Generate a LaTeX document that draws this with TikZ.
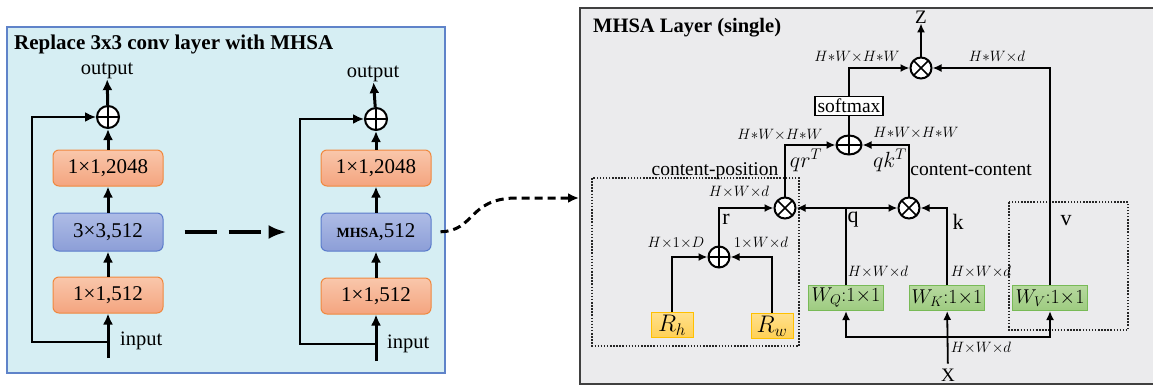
\RequirePackage{fix-cm}
\documentclass[tikz,border=0pt]{standalone}
\usepackage{fontspec}
\setmainfont{Liberation Serif}
\usepackage{tikz}
\usetikzlibrary{arrows.meta,shapes.geometric}

\definecolor{panelblue}{HTML}{D6EEF3}
\definecolor{paneledge}{HTML}{5F83C9}
\definecolor{panelgray}{HTML}{EBEBED}
\definecolor{orangetop}{HTML}{F9C7AB}
\definecolor{orangebot}{HTML}{F4A47F}
\definecolor{orangeedge}{HTML}{F0883E}
\definecolor{bluetop}{HTML}{AEBCE6}
\definecolor{bluebot}{HTML}{8C9ED7}
\definecolor{blueedge}{HTML}{5A7BCB}
\definecolor{greentop}{HTML}{B7D99F}
\definecolor{greenbot}{HTML}{9DCB80}
\definecolor{greenedge}{HTML}{78BA57}
\definecolor{yellowtop}{HTML}{FFE08C}
\definecolor{yellowbot}{HTML}{FFD055}
\definecolor{yellowedge}{HTML}{FFC000}

\newcommand{\fs}[1]{\fontsize{#1}{#1}\selectfont}

\begin{document}
\begin{tikzpicture}[x=1pt, y=-1pt,
  every node/.style = {inner sep=1pt},
  arr/.style = {line width=1.8pt, -{Latex[length=9pt,width=8pt]}},
  thickarr/.style = {line width=3pt, -{Latex[length=11pt,width=10pt]}},
  skiparr/.style = {line width=2pt, -{Latex[length=11pt,width=10pt]}},
  convbox/.style = {draw = orangeedge, line width = 1pt, top color = orangetop, bottom color = orangebot, rounded corners = 6pt, minimum width = 110pt, minimum height = 36pt, font = \fs{21}},
  mhsabox/.style = {convbox, draw = blueedge, top color = bluetop, bottom color = bluebot, minimum height = 38pt},
  wbox/.style = {draw = greenedge, line width = 1pt, top color = greentop, bottom color = greenbot, minimum width = 75pt, minimum height = 25pt, inner sep = 0pt, font = \fs{20}},
  rbox/.style = {draw = yellowedge, line width = 1pt, top color = yellowtop, bottom color = yellowbot, minimum width = 42pt, minimum height = 25pt, inner sep = 0pt, font = \fs{24}},
  addnode/.style = {draw, circle, line width = 2pt, fill = white, minimum size = 22pt, inner sep = 0pt,
    path picture = {\draw[line width = 1.6pt] (path picture bounding box.north) -- (path picture bounding box.south) (path picture bounding box.west) -- (path picture bounding box.east);}},
  mulnode/.style = {addnode, minimum size = 21pt,
    path picture = {\draw[line width = 1.6pt] (path picture bounding box.north west) -- (path picture bounding box.south east) (path picture bounding box.south west) -- (path picture bounding box.north east);}},
  dim/.style = {inner sep = 0pt, font = \fs{15}},
  big/.style = {inner sep = 0pt, font = \fs{20.5}},
  dotbox/.style = {draw = black!85, line width = 1.6pt, dash pattern = on 1.5pt off 1.6pt}
]
\useasboundingbox (0,0) rectangle (1153,386);

% left panel
\draw[draw = paneledge, fill = panelblue, line width = 2pt] (7,27) rectangle (445,373);
\node[anchor = west, font = \fs{21}\bfseries] (ttlA) at (13,44) {Replace 3x3 conv layer with MHSA};

\node[convbox] (c1) at (108,295) {1×1,512};
\node[mhsabox] (c2) at (108,232) {3×3,512};
\node[convbox] (c3) at (108,168) {1×1,2048};
\node[addnode] (p1) at (108,117) {};
\node[big] (out1) at (107,71) {output};
\node[big, anchor = west] (inl1) at (120,341) {input};
\coordinate (in1) at (108,358);
\coordinate (s1) at (108,342);
\draw[thickarr] (in1) -- (c1);
\draw[thickarr] (c1) -- (c2);
\draw[thickarr] (c2) -- (c3);
\draw[thickarr] (c3) -- (p1);
\draw[thickarr] (p1) -- (out1);
\draw[skiparr] (s1) -- ++(-76,0) |- (p1);

\node[convbox] (c4) at (376,296) {1×1,512};
\node[mhsabox] (c5) at (376,232) {{\fs{14}\bfseries MHSA},512};
\node[convbox] (c6) at (376,168) {1×1,2048};
\node[addnode] (p2) at (376,119) {};
\node[big] (out2) at (373,74) {output};
\node[big, anchor = west] (inl2) at (387,344) {input};
\coordinate (in2) at (376,361);
\coordinate (s2) at (376,344);
\draw[thickarr] (in2) -- (c4);
\draw[thickarr] (c4) -- (c5);
\draw[thickarr] (c5) -- (c6);
\draw[thickarr] (c6) -- (p2);
\draw[thickarr] (p2) -- (out2);
\draw[skiparr] (s2) -- ++(-76,0) |- (p2);

\draw[line width = 3.5pt, dash pattern = on 32pt off 12pt, -{Latex[length=18pt,width=14pt]}, shorten <= 21pt, shorten >= 34pt] (c2) -- (c5);

% right panel
\draw[draw = black!75, fill = panelgray, line width = 2pt] (580,8) rectangle (1160,384);
\node[anchor = west, font = \fs{20.5}\bfseries] (ttlB) at (592,28) {MHSA Layer (single)};
\coordinate (mhsain) at (579,198);
\draw[line width = 3pt, dash pattern = on 8pt off 5pt, -{Latex[length=11pt,width=10pt]}, shorten <= 9pt] (c5.east) .. controls (475,231) and (468,199) .. (515,198) -- (mhsain);

\draw[dotbox] (592,178) rectangle (799,346);
\draw[dotbox] (1009,202) rectangle (1128,330);

\node[mulnode] (mz) at (921,68) {};
\node[font = \fs{19}, inner sep = 0pt] (z) at (921,17) {Z};
\node[draw, line width = 1.5pt, fill = white, font = \fs{19.5}, inner sep = 1pt, minimum width = 68pt, minimum height = 19pt] (sm) at (849,106) {softmax};
\node[addnode, ellipse, minimum width = 25pt, minimum height = 19pt] (ps) at (849,145) {};
\node[mulnode] (mqr) at (785,208) {};
\node[mulnode] (mqk) at (909,208) {};
\node[addnode, minimum size = 21pt] (pr) at (719,257) {};
\node[rbox] (rh) at (672,325) {$R_h$};
\node[rbox] (rw) at (772,326) {$R_w$};
\node[wbox] (wq) at (846,298) {$W_Q{:}1{\times}1$};
\node[wbox] (wk) at (947,298) {$W_K{:}1{\times}1$};
\node[wbox] (wv) at (1050,298) {$W_V{:}1{\times}1$};
\node[font = \fs{19}, inner sep = 0pt] (x) at (948,375) {X};
\coordinate (xb) at (948,337);

\draw[arr] (mz) -- (z);
\draw[arr] (sm) |- (mz);
\draw[arr] (wv) |- (mz);
\draw[line width = 1.8pt] (ps) -- (sm);
\draw[arr] (mqr) |- (ps);
\draw[arr] (mqk) |- (ps);
\draw[arr] (wq) |- (mqr);
\draw[arr] (wq) |- (mqk);
\draw[arr] (wk) |- (mqk);
\draw[arr] (pr) |- (mqr);
\draw[arr] (rh) |- (pr);
\draw[arr] (rw) |- (pr);
\draw[arr, shorten <= 5pt] (x) -- (wk);
\draw[arr] (xb) -| (wq);
\draw[arr] (xb) -| (wv);

% labels
\node[dim] (d1) at (857,57) {$H{*}W{\times}H{*}W$};
\node[dim] (d2) at (997,57) {$H{*}W{\times}d$};
\node[dim] (d3) at (780,135) {$H{*}W{\times}H{*}W$};
\node[dim] (d4) at (916,133) {$H{*}W{\times}H{*}W$};
\node[inner sep = 0pt, font = \fs{22}] (lqr) at (806,160) {$qr^T$};
\node[inner sep = 0pt, font = \fs{22}] (lqk) at (890,160) {$qk^T$};
\node[inner sep = 0pt, font = \fs{19.5}] (lcc) at (971,170) {content-content};
\node[inner sep = 0pt, font = \fs{19.5}] (lcp) at (715,171) {content-position};
\node[dim] (d5) at (739,192) {$H{\times}W{\times}d$};
\node[dim] (d6) at (676,243) {$H{\times}1{\times}D$};
\node[dim] (d7) at (761,243) {$1{\times}W{\times}d$};
\node[dim] (d8) at (878,272) {$H{\times}W{\times}d$};
\node[dim] (d9) at (981,272) {$H{\times}W{\times}d$};
\node[dim] (d10) at (981,348) {$H{\times}W{\times}d$};
\node[big, font = \fs{22}] (lr) at (726,219) {r};
\node[big, font = \fs{22}] (lq) at (853,220) {q};
\node[big, font = \fs{22}] (lk) at (958,222) {k};
\node[big, font = \fs{22}] (lv) at (1066,221) {v};
\end{tikzpicture}
\end{document}
